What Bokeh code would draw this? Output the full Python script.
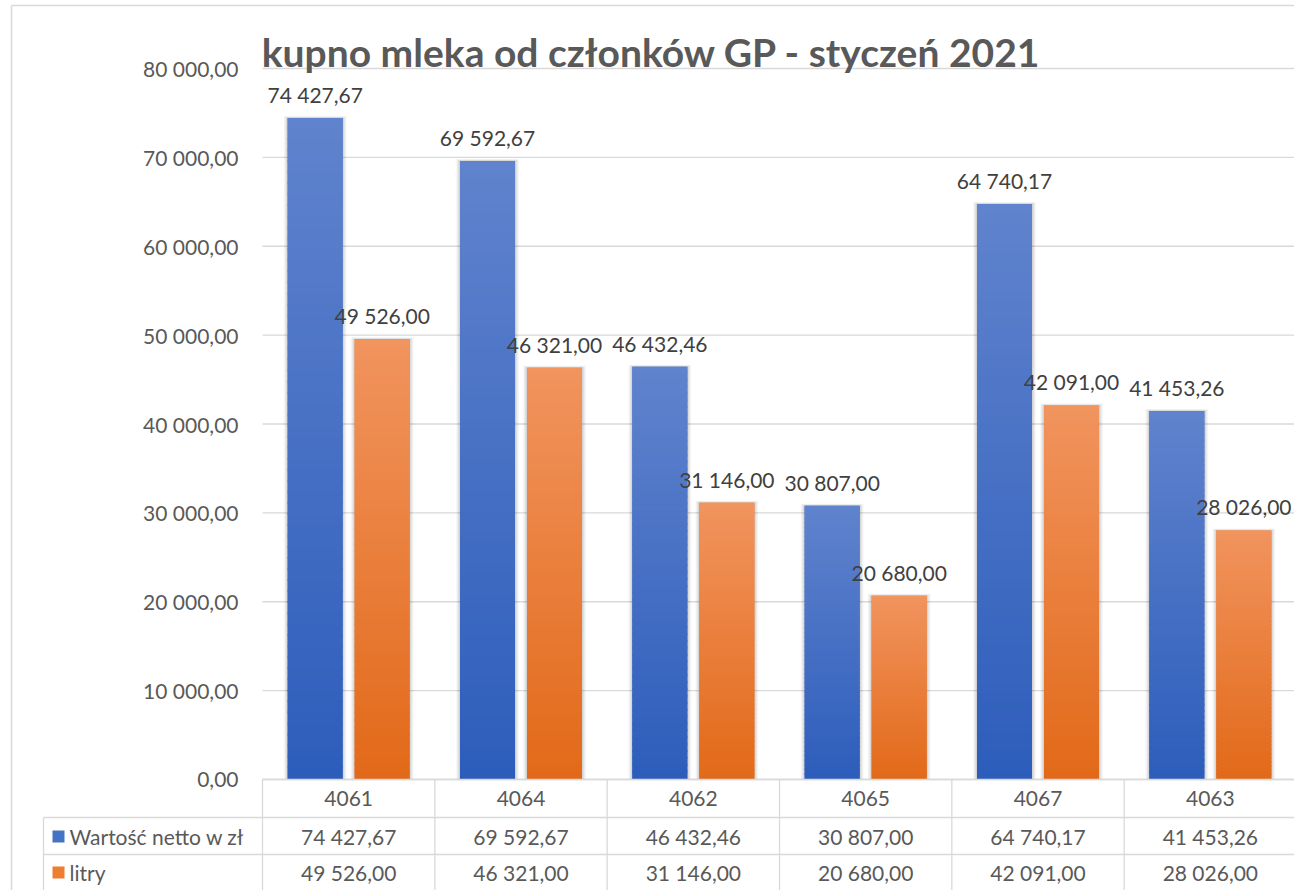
import numpy as np
from bokeh.plotting import figure
from bokeh.models import Range1d
from bokeh.core.properties import value
from bokeh.embed import file_html
from bokeh.resources import INLINE

# ---------------- data ----------------
title_text = "kupno mleka od członków GP - styczeń 2021"
categories = ["4061", "4064", "4062", "4065", "4067", "4063"]
series_names = ["Wartość netto w zł", "litry"]
wartosc = [74427.67, 69592.67, 46432.46, 30807.00, 64740.17, 41453.26]
litry = [49526.00, 46321.00, 31146.00, 20680.00, 42091.00, 28026.00]
y_ticks = [0, 10000, 20000, 30000, 40000, 50000, 60000, 70000, 80000]
y_tick_labels = ["0,00", "10 000,00", "20 000,00", "30 000,00", "40 000,00",
                 "50 000,00", "60 000,00", "70 000,00", "80 000,00"]

# ---------------- layout (picture pixels) ----------------
OFF = 0
W, H = 1294, 890
PL, PR, PT, PB = 262, 1296, 68, 779
YMAX = 80000
n = len(categories)
cw = (PR - PL) / n
ppu = (PB - PT) / YMAX


def X(px):
    return (px - PL) / cw


def Y(py):
    return (PB - py) / ppu


FONT = "Lato"
GRID = "#D9D9D9"
TXT = "#595959"
LBL = "#404040"
FS = "21px"

p = figure(width=W, height=H, x_range=Range1d(X(OFF), X(OFF + W)),
           y_range=Range1d(Y(OFF + H), Y(OFF)),
           x_axis_type=None, y_axis_type=None,
           output_backend="svg", toolbar_location=None, min_border=0)
p.grid.visible = False
p.outline_line_color = None
p.background_fill_color = "white"
p.border_fill_color = "white"

# chart border (left / top)
p.segment(x0=[X(11), X(11)], y0=[Y(5), Y(5)], x1=[X(11), X(1300)], y1=[Y(OFF + H + 5), Y(5)],
          line_color=GRID, line_width=1.5)

# gridlines
p.segment(x0=[0] * len(y_ticks), x1=[n + 0.2] * len(y_ticks), y0=y_ticks, y1=y_ticks,
          line_color=GRID, line_width=1.3)

# y tick labels
p.text(x=[X(238)] * len(y_ticks), y=y_ticks, text=y_tick_labels,
       text_align="right", text_baseline="middle", text_font=value(FONT),
       text_font_size=FS, text_color=TXT)

# bars with gradient + soft shadow
offset = 33.5 / cw
bw = 55 / cw
series = [(wartosc, -offset, (45, 93, 187), (96, 131, 205)),
          (litry, offset, (226, 105, 25), (241, 148, 94))]
NS = 60
for vals, off, c_bot, c_top in series:
    centers = np.arange(n) + 0.5 + off
    vals = np.array(vals)
    # shadow
    for k, a in [(4, 0.03), (3, 0.04), (2, 0.05), (1, 0.06)]:
        p.quad(left=centers - bw / 2 - k / cw, right=centers + bw / 2 + k / cw,
               bottom=np.zeros(n), top=vals + k / ppu * 0.5,
               fill_color="black", fill_alpha=a, line_color=None)
    # solid base so slice seams never reveal the shadow
    p.quad(left=centers - bw / 2, right=centers + bw / 2, bottom=np.zeros(n), top=vals,
           fill_color="#%02x%02x%02x" % tuple((np.array(c_bot) + np.array(c_top)) // 2),
           line_color=None)
    L, R, B, T, C = [], [], [], [], []
    for i in range(n):
        edges = np.linspace(0, vals[i], NS + 1)
        for s in range(NS):
            t = (s + 0.5) / NS
            col = tuple(int(round(c_bot[j] + (c_top[j] - c_bot[j]) * t)) for j in range(3))
            L.append(centers[i] - bw / 2)
            R.append(centers[i] + bw / 2)
            B.append(edges[s])
            T.append(min(edges[s + 1] + 2.0 / ppu, vals[i]))
            C.append("#%02x%02x%02x" % col)
    p.quad(left=L, right=R, bottom=B, top=T, fill_color=C, line_color=None)
    labels = [f"{v:,.2f}".replace(",", " ").replace(".", ",") for v in vals]
    p.text(x=centers, y=vals, text=labels, text_align="center", text_baseline="bottom",
           y_offset=-11, text_font=value(FONT), text_font_size=FS, text_color=LBL)

# title
p.text(x=[X(651)], y=[Y(51)], text=[title_text], text_align="center",
       text_baseline="middle", text_font=value(FONT), text_font_style="bold",
       text_font_size="39px", text_color=TXT)

# ---------------- data table ----------------
row_top = [PB, 817, 854]
p.segment(x0=[0, X(43), X(43)], x1=[n + 0.2] * 3, y0=[Y(r) for r in row_top],
          y1=[Y(r) for r in row_top], line_color=GRID, line_width=1.3)
vx = [X(43)] + [i for i in range(n + 1)]
vy0 = [Y(817)] + [Y(PB)] * (n + 1)
p.segment(x0=vx, x1=vx, y0=vy0, y1=[Y(OFF + H + 5)] * len(vx), line_color=GRID, line_width=1.3)

cx = np.arange(n) + 0.5
p.text(x=cx, y=[Y(798)] * n, text=categories, text_align="center", text_baseline="middle",
       text_font=value(FONT), text_font_size=FS, text_color=TXT)
for vals, yy in [(wartosc, 836), (litry, 872)]:
    labels = [f"{v:,.2f}".replace(",", " ").replace(".", ",") for v in vals]
    p.text(x=cx, y=[Y(yy)] * n, text=labels, text_align="center", text_baseline="middle",
           text_font=value(FONT), text_font_size=FS, text_color=TXT)

# legend keys in table
p.rect(x=[X(58), X(58)], y=[Y(836), Y(872)], width=12, height=12,
       width_units="screen", height_units="screen",
       fill_color=["#4472C4", "#ED7D31"], line_color=None)
p.text(x=[X(69), X(69)], y=[Y(836), Y(872)], text=series_names, text_align="left",
       text_baseline="middle", text_font=value(FONT), text_font_size=FS, text_color=TXT)

open("out.html", "w").write(file_html(p, INLINE))
